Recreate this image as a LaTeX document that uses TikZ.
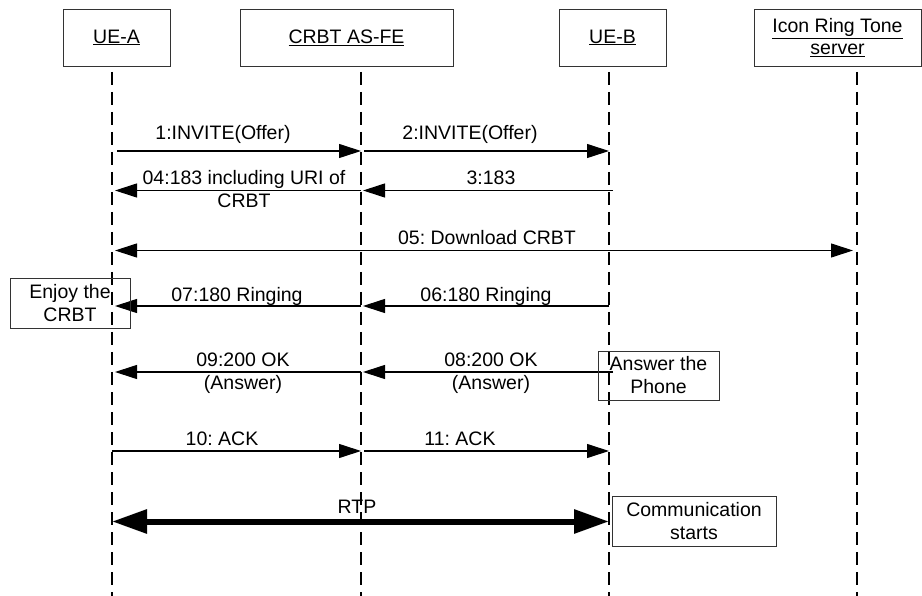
\documentclass[tikz,border=0pt]{standalone}
\usepackage{fontspec}
\setmainfont{Liberation Sans}
\usetikzlibrary{arrows.meta}
\frenchspacing
\begin{document}
\begin{tikzpicture}[x=1pt,y=-1pt,
  every node/.style={font=\fontsize{19.5}{23}\selectfont},
  hdr/.style={draw=black!80, line width=0.9pt, inner sep=0pt, align=center, minimum height=57pt},
  note/.style={draw=black!80, line width=0.9pt, inner sep=0pt, align=center},
  life/.style={line width=1.1pt, dash pattern=on 13pt off 7pt},
  msg/.style={line width=1.1pt, -{Triangle[length=22pt,width=14pt]}},
  bimsg/.style={line width=1.1pt, {Triangle[length=22pt,width=14pt]}-{Triangle[length=22pt,width=14pt]}},
  rtp/.style={line width=6pt, {Triangle[length=35pt,width=23pt]}-{Triangle[length=35pt,width=23pt]}},
  lbl/.style={anchor=base, inner sep=0pt, align=center}
]
\useasboundingbox (0,0) rectangle (922,596);

% header boxes
\node[hdr, minimum width=107pt] (hA) at (116.5,37.5) {\underline{UE-A}};
\node[hdr, minimum width=213pt] (hB) at (346.5,37.5) {\underline{CRBT AS-FE}};
\node[hdr, minimum width=107pt] (hC) at (612.5,37.5) {\underline{UE-B}};
\node[hdr, minimum width=167pt] (hD) at (837.5,37.5) {\underline{Icon Ring Tone}\\[-1pt]\underline{server}};

% lifelines
\coordinate (A) at (112,72);
\coordinate (B) at (361,72);
\coordinate (C) at (609,72);
\coordinate (D) at (857,72);
\coordinate (bot) at (0,596);
\foreach \l in {A,B,C,D} \draw[life] (\l) -- (\l |- bot);

% message rows
\coordinate (y1) at (0,151);
\coordinate (y2) at (0,190.5);
\coordinate (y3) at (0,250.5);
\coordinate (y4) at (0,306);
\coordinate (y5) at (0,372);
\coordinate (y6) at (0,451);
\coordinate (y7) at (0,521.5);

% 1 / 2 INVITE
\draw[msg] ([xshift=5pt]A |- y1) -- (B |- y1);
\draw[msg] ([xshift=3pt]B |- y1) -- (C |- y1);
\node[lbl] (t1) at (223,140) {1:INVITE(Offer)};
\node[lbl] (t2) at (470,140) {2:INVITE(Offer)};

% 3 / 04
\draw[msg] ([xshift=4pt]C |- y2) -- ([xshift=2pt]B |- y2);
\draw[msg] (B |- y2) -- ([xshift=3pt]A |- y2);
\node[lbl] (t3) at (491,185) {3:183};
\node[lbl] (t4) at (244,208) {04:183 including URI of\\CRBT};

% 05
\draw[bimsg] ([xshift=3pt]A |- y3) -- ([xshift=-4pt]D |- y3);
\node[lbl] (t5) at (487,245) {05: Download CRBT};

% 06 / 07
\draw[msg] (C |- y4) -- ([xshift=2pt]B |- y4);
\draw[msg] (B |- y4) -- ([xshift=3pt]A |- y4);
\node[lbl] (t6) at (486,302) {06:180 Ringing};
\node[lbl] (t7) at (237,302) {07:180 Ringing};
\node[note, minimum width=120pt, minimum height=50pt] (enjoy) at (70,303) {Enjoy the\\CRBT};

% 08 / 09
\draw[msg] ([xshift=4pt]C |- y5) -- ([xshift=2pt]B |- y5);
\draw[msg] (B |- y5) -- ([xshift=3pt]A |- y5);
\node[lbl] (t8) at (491,389) {08:200 OK\\(Answer)};
\node[lbl] (t9) at (243,389) {09:200 OK\\(Answer)};
\node[note, minimum width=121pt, minimum height=49pt] (answer) at (658.5,375.5) {Answer the\\Phone};

% 10 / 11
\draw[msg] (A |- y6) -- (B |- y6);
\draw[msg] ([xshift=3pt]B |- y6) -- (C |- y6);
\node[lbl] (t10) at (222,445) {10: ACK};
\node[lbl] (t11) at (460,445) {11: ACK};

% RTP
\draw[rtp] (A |- y7) -- (C |- y7);
\node[lbl] (trtp) at (357,513) {RTP};
\node[note, minimum width=164pt, minimum height=50pt] (comm) at (694,521) {Communication\\starts};
\end{tikzpicture}
\end{document}
